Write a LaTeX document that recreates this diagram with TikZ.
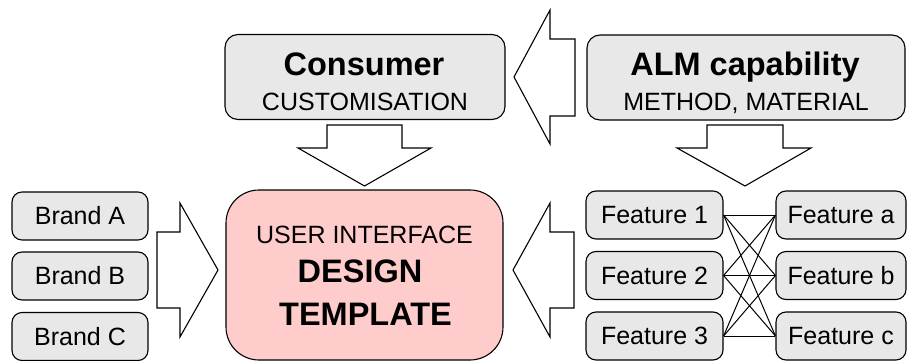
\documentclass[tikz,border=0pt]{standalone}
\usepackage{fontspec}
\setmainfont{Liberation Sans}
\definecolor{boxgray}{RGB}{232,232,232}
\definecolor{boxpink}{RGB}{255,204,204}
\begin{document}
\begin{tikzpicture}[x=1pt,y=-1pt,
  gbox/.style={draw, line width=1.1pt, fill=boxgray, rounded corners=10pt, inner sep=0pt},
  bigbox/.style={gbox, rounded corners=13pt},
  pbox/.style={draw, line width=1.1pt, fill=boxpink, rounded corners=33pt, inner sep=0pt},
  smallbox/.style={gbox, minimum height=48pt},
  lbl/.style={inner sep=0pt, anchor=base},
  normtxt/.style={font=\fontsize{25}{30}\selectfont},
  boldtxt/.style={font=\bfseries\fontsize{32.5}{38}\selectfont},
  barrow/.style={draw, line width=1.1pt, fill=white, line join=miter},
  link/.style={draw, line width=1pt}
]
\useasboundingbox (0,0) rectangle (907,361);

% block arrows
\draw[barrow] (514,77) -- (550,10) -- (550,39) -- (575,39) -- (575,116) -- (550,116) -- (550,144) -- cycle;
\draw[barrow] (364.5,186) -- (298,148) -- (327,148) -- (327,125) -- (402,125) -- (402,148) -- (431,148) -- cycle;
\draw[barrow] (745,186) -- (677,148) -- (707,148) -- (707,125) -- (783,125) -- (783,148) -- (811,148) -- cycle;
\draw[barrow] (218,270) -- (180,203) -- (180,232) -- (157,232) -- (157,308) -- (180,308) -- (180,337) -- cycle;
\draw[barrow] (513,270) -- (550,203) -- (550,232) -- (574,232) -- (574,308) -- (550,308) -- (550,337) -- cycle;

% top boxes
\node[bigbox, minimum width=280pt, minimum height=85pt] (cons) at (365,77) {};
\node[lbl, boldtxt] (consT) at (364,75) {Consumer};
\node[lbl, normtxt] (consS) at (365,110) {CUSTOMISATION};

\node[bigbox, minimum width=318pt, minimum height=85pt] (alm) at (746,77.5) {};
\node[lbl, boldtxt] (almT) at (745,75) {ALM capability};
\node[lbl, normtxt] (almS) at (746,110) {METHOD, MATERIAL};

% design template
\node[pbox, minimum width=277pt, minimum height=170pt] (design) at (364.5,275) {};
\node[lbl, normtxt] (dT1) at (364.5,243) {USER INTERFACE};
\node[lbl, boldtxt] (dT2) at (360,282) {DESIGN};
\node[lbl, boldtxt] (dT3) at (365.5,325) {TEMPLATE};

% brands
\node[smallbox, minimum width=136pt, normtxt] (brA) at (80,216) {Brand A};
\node[smallbox, minimum width=136pt, normtxt] (brB) at (80,276) {Brand B};
\node[smallbox, minimum width=136pt, normtxt] (brC) at (80,336.5) {Brand C};

% features
\node[smallbox, minimum width=137pt, normtxt] (f1) at (654.5,215) {Feature 1};
\node[smallbox, minimum width=137pt, normtxt] (f2) at (654.5,275.5) {Feature 2};
\node[smallbox, minimum width=137pt, normtxt] (f3) at (654.5,336) {Feature 3};
\node[smallbox, minimum width=130pt, normtxt] (fa) at (841,215) {Feature a};
\node[smallbox, minimum width=130pt, normtxt] (fb) at (841,275.5) {Feature b};
\node[smallbox, minimum width=130pt, normtxt] (fc) at (841,336) {Feature c};

% links
\foreach \s in {f1,f2,f3}{
  \foreach \t in {fa,fb,fc}{
    \draw[link] (\s.east) -- (\t.west);
  }
}
\end{tikzpicture}
\end{document}
